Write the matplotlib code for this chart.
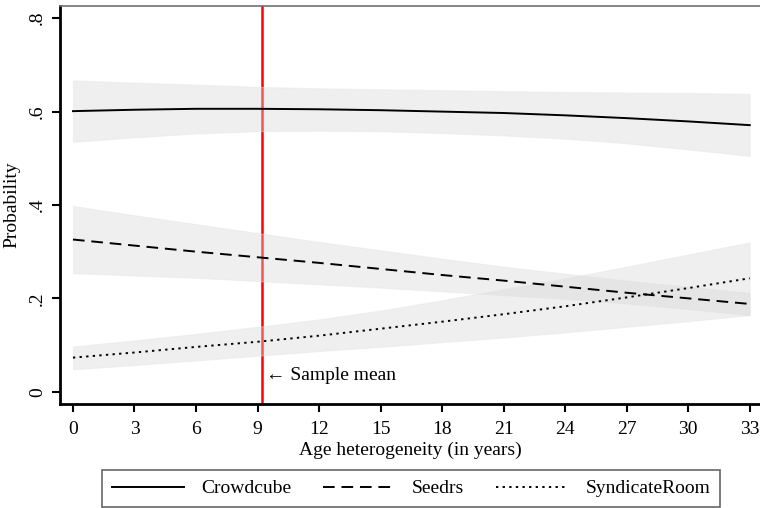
import matplotlib.pyplot as plt
import numpy as np

plt.rcParams['font.family'] = ['Liberation Serif', 'DejaVu Serif']

# ==================== data ====================
age = [0, 3, 6, 9, 12, 15, 18, 21, 24, 27, 30, 33]

crowdcube = [0.601, 0.604, 0.606, 0.606, 0.605, 0.603, 0.600, 0.597, 0.592, 0.586, 0.579, 0.571]
crowdcube_hi = [0.667, 0.662, 0.658, 0.653, 0.650, 0.648, 0.646, 0.644, 0.642, 0.641, 0.640, 0.638]
crowdcube_lo = [0.535, 0.545, 0.553, 0.558, 0.559, 0.558, 0.554, 0.549, 0.542, 0.532, 0.519, 0.505]

seedrs = [0.326, 0.313, 0.300, 0.288, 0.276, 0.263, 0.250, 0.238, 0.225, 0.212, 0.200, 0.188]
seedrs_hi = [0.398, 0.378, 0.359, 0.340, 0.321, 0.303, 0.285, 0.268, 0.253, 0.238, 0.225, 0.212]
seedrs_lo = [0.254, 0.249, 0.244, 0.237, 0.230, 0.223, 0.215, 0.207, 0.199, 0.189, 0.177, 0.164]

syndicate = [0.073, 0.084, 0.096, 0.107, 0.120, 0.135, 0.150, 0.166, 0.183, 0.202, 0.222, 0.243]
syndicate_hi = [0.097, 0.110, 0.124, 0.139, 0.155, 0.174, 0.196, 0.220, 0.243, 0.268, 0.294, 0.320]
syndicate_lo = [0.048, 0.057, 0.067, 0.077, 0.087, 0.096, 0.106, 0.116, 0.127, 0.139, 0.151, 0.164]

sample_mean = 9.21

series = [
    ('Crowdcube', crowdcube, crowdcube_lo, crowdcube_hi, '-'),
    ('Seedrs', seedrs, seedrs_lo, seedrs_hi, (0, (6, 3.5))),
    ('SyndicateRoom', syndicate, syndicate_lo, syndicate_hi, (0, (1.2, 2.2))),
]

# ==================== figure ====================
fig = plt.figure(figsize=(7.6, 5.08), dpi=100)
ax = fig.add_axes([0.079, 0.205, 0.921, 0.783])

ax.axvline(sample_mean, color='red', linewidth=1.8, zorder=1)

for name, y, lo, hi, ls in series:
    ax.fill_between(age, lo, hi, color='#d8d8d8', alpha=0.4, linewidth=0.8,
                    edgecolor='#e4e4e4', zorder=2)
for name, y, lo, hi, ls in series:
    ax.plot(age, y, color='black', linestyle=ls, linewidth=1.4, label=name, zorder=3)

ax.text(sample_mean + 0.2, 0.034, '\u2190 Sample mean', fontsize=14, va='center', ha='left')

ax.set_xlim(-0.63, 33.5)
ax.set_ylim(-0.026, 0.826)
ax.set_xticks(np.arange(0, 34, 3))
ax.set_yticks([0, 0.2, 0.4, 0.6, 0.8], ['0', '.2', '.4', '.6', '.8'])
ax.tick_params(axis='both', labelsize=14, length=6, width=1.5, direction='out')
ax.tick_params(axis='x', pad=6)
ax.tick_params(axis='y', labelrotation=90, pad=4)
for lab in ax.get_yticklabels():
    lab.set_va('center')

ax.set_xlabel('Age heterogeneity (in years)', fontsize=14, labelpad=3)
ax.set_ylabel('Probability', fontsize=14, labelpad=6)

ax.spines['left'].set_linewidth(2)
ax.spines['bottom'].set_linewidth(2)
ax.spines['top'].set_color('#707070')
ax.spines['top'].set_linewidth(1.2)
ax.spines['right'].set_visible(False)

leg = fig.legend(loc='lower center', bbox_to_anchor=(0.541, 0.0), ncol=3, fontsize=14,
                 frameon=True, fancybox=False, edgecolor='#404040', handlelength=3.7,
                 columnspacing=1.65, handletextpad=0.87, borderpad=0.5, borderaxespad=0.05)
leg.get_frame().set_linewidth(1.2)

plt.savefig('out.png', dpi=100, facecolor='white')
